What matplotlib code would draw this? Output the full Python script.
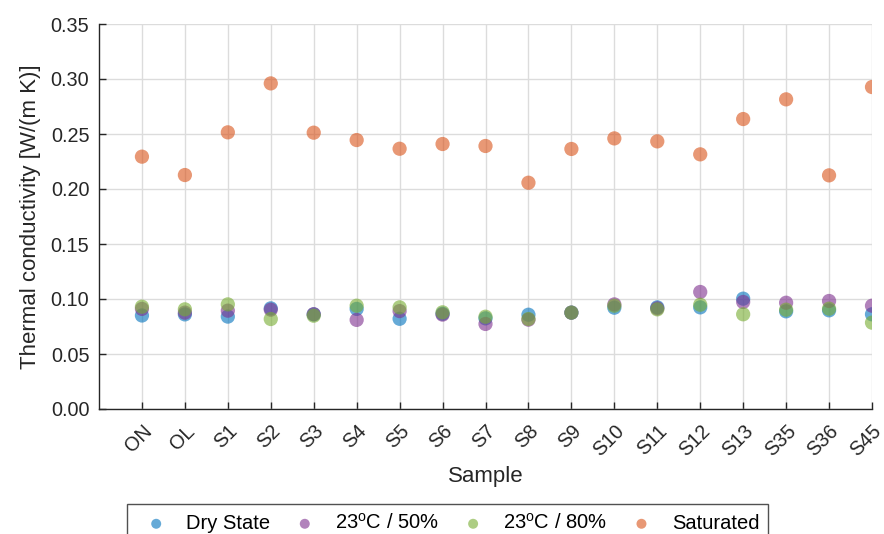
import matplotlib
matplotlib.use("Agg")
import matplotlib.pyplot as plt

plt.rcParams['font.family'] = ['Liberation Sans', 'DejaVu Sans']

samples = ["ON", "OL", "S1", "S2", "S3", "S4", "S5", "S6", "S7", "S8",
           "S9", "S10", "S11", "S12", "S13", "S35", "S36", "S45"]

dry_state = [0.085, 0.086, 0.084, 0.0915, 0.086, 0.091, 0.082, 0.0866, 0.0824,
             0.0857, 0.0876, 0.0921, 0.0924, 0.0924, 0.1003, 0.0888, 0.0897, 0.0861]
rh50 = [0.091, 0.0876, 0.0894, 0.0903, 0.0862, 0.081, 0.089, 0.0858, 0.0773,
        0.0812, 0.0876, 0.0951, 0.0915, 0.1064, 0.0973, 0.0966, 0.0982, 0.0939]
rh80 = [0.093, 0.0906, 0.0951, 0.0818, 0.0848, 0.0939, 0.0924, 0.0879, 0.0839,
        0.0818, 0.0876, 0.0939, 0.0906, 0.0948, 0.0861, 0.0903, 0.0912, 0.0785]
saturated = [0.2294, 0.2127, 0.2515, 0.296, 0.2512, 0.2445, 0.2366, 0.2409, 0.2391,
             0.2057, 0.2364, 0.246, 0.2433, 0.2315, 0.2636, 0.2815, 0.2124, 0.2927]

series = [
    ("Dry State", dry_state, (0.0, 0.447, 0.741)),
    ("23$^{\\mathregular{o}}$C / 50%", rh50, (0.494, 0.184, 0.556)),
    ("23$^{\\mathregular{o}}$C / 80%", rh80, (0.466, 0.674, 0.188)),
    ("Saturated", saturated, (0.85, 0.325, 0.098)),
]

fig = plt.figure(figsize=(8.84, 5.34), dpi=100)
ax = fig.add_axes([99 / 884, 1 - 409 / 534, (872 - 99) / 884, (409 - 24) / 534])

x = list(range(1, len(samples) + 1))
for label, vals, color in series:
    ax.scatter(x, vals, s=105, color=color, alpha=0.6, edgecolors='none',
               label=label, zorder=3)

ax.set_xlim(0, len(samples))
ax.set_ylim(0, 0.35)
ax.set_xticks(x)
ax.set_xticklabels(samples, rotation=45, ha='right', rotation_mode='anchor')
ax.set_yticks([0, 0.05, 0.10, 0.15, 0.20, 0.25, 0.30, 0.35])
ax.set_yticklabels([f"{v:.2f}" for v in ax.get_yticks()])
ax.tick_params(direction='in', length=5, width=1, labelsize=14.3, colors='#262626',
               pad=7)
ax.tick_params(axis='x', pad=9)
ax.grid(True, color='#dcdcdc', linewidth=1)
ax.set_axisbelow(True)
for side in ('top', 'right'):
    ax.spines[side].set_visible(False)
for side in ('left', 'bottom'):
    ax.spines[side].set_color('#262626')
    ax.spines[side].set_linewidth(1)

ax.set_xlabel("Sample", fontsize=16, color='#262626', labelpad=4)
ax.set_ylabel("Thermal conductivity [W/(m K)]", fontsize=16, color='#262626',
              labelpad=7)

leg = fig.legend(loc='upper left', bbox_to_anchor=(127 / 884, 1 - 504 / 534),
                 ncol=4, fontsize=14.5, frameon=True, fancybox=False,
                 edgecolor='#262626', handletextpad=0.5, columnspacing=0.7,
                 borderpad=0.45, handlelength=2.0, markerscale=0.7,
                 borderaxespad=0)
leg.get_frame().set_linewidth(1)
for h in leg.legend_handles:
    h.set_alpha(0.6)

fig.savefig("out.png", dpi=100)
